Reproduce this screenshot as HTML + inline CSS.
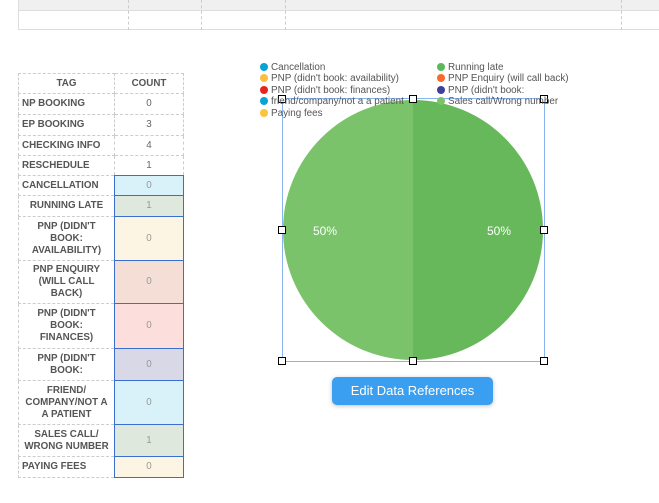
<!DOCTYPE html>
<html><head><style>
body{margin:0;width:659px;height:503px;background:#fff;font-family:"Liberation Sans",sans-serif;position:relative;overflow:hidden}
.a{position:absolute}
table{border-collapse:collapse;position:absolute;left:18px;top:73px;width:166px;font-size:9.8px;color:#555;font-weight:bold}
td{border:1px dashed #ccc;padding:0 3px;text-align:center;line-height:12px}
td.c{font-weight:normal;color:#999;width:62px;border:1px solid #3a6fd0}
td.w{font-weight:normal;color:#666}
.lg{position:absolute;font-size:9.9px;color:#555;white-space:nowrap}
.lg i{position:absolute;left:-11px;top:1px;width:8px;height:8px;border-radius:50%}
.h{position:absolute;width:6px;height:6px;border:1px solid #000;background:#fff}
</style></head><body>
<div class="a" style="left:18px;top:0;width:641px;height:10px;background:#f0f0f0;border-bottom:1px solid #ddd"></div>
<div class="a" style="left:18px;top:0;width:641px;height:30px;border-left:1px solid #ddd;border-bottom:1px solid #ddd;box-sizing:border-box"></div>
<div class="a" style="left:128px;top:0;height:30px;border-left:1px dashed #ccc"></div>
<div class="a" style="left:201px;top:0;height:30px;border-left:1px dashed #ccc"></div>
<div class="a" style="left:285px;top:0;height:30px;border-left:1px dashed #ccc"></div>
<div class="a" style="left:621px;top:0;height:30px;border-left:1px dashed #ccc"></div>
<table>
<tr style="height:20px"><td>TAG</td><td class="w" style="font-weight:bold;color:#555;width:62px">COUNT</td></tr>
<tr style="height:21px"><td style="text-align:left">NP BOOKING</td><td class="w">0</td></tr>
<tr style="height:21px"><td style="text-align:left">EP BOOKING</td><td class="w">3</td></tr>
<tr style="height:20px"><td style="text-align:left">CHECKING INFO</td><td class="w">4</td></tr>
<tr style="height:20px"><td style="text-align:left">RESCHEDULE</td><td class="w">1</td></tr>
<tr style="height:20px"><td style="text-align:left">CANCELLATION</td><td class="c" style="background:#d9f1f8">0</td></tr>
<tr style="height:21px"><td>RUNNING LATE</td><td class="c" style="background:#dfe8dc">1</td></tr>
<tr style="height:44px"><td>PNP (DIDN'T<br>BOOK:<br>AVAILABILITY)</td><td class="c" style="background:#fdf5e3">0</td></tr>
<tr style="height:43px"><td>PNP ENQUIRY<br>(WILL CALL<br>BACK)</td><td class="c" style="background:#f4ded5">0</td></tr>
<tr style="height:45px"><td>PNP (DIDN'T<br>BOOK:<br>FINANCES)</td><td class="c" style="background:#fcdedd">0</td></tr>
<tr style="height:32px"><td>PNP (DIDN'T<br>BOOK:</td><td class="c" style="background:#d8d8e6">0</td></tr>
<tr style="height:44px"><td>FRIEND/<br>COMPANY/NOT A<br>A PATIENT</td><td class="c" style="background:#d9f1f8">0</td></tr>
<tr style="height:32px"><td>SALES CALL/<br>WRONG NUMBER</td><td class="c" style="background:#dfe8dc">1</td></tr>
<tr style="height:21px"><td style="text-align:left">PAYING FEES</td><td class="c" style="background:#fdf5e3">0</td></tr>
</table>
<svg class="a" style="left:0;top:0" width="659" height="503">
<path d="M413,100 A130,130 0 0 0 413,360 Z" fill="#7ac36a"/>
<path d="M413,100 A130,130 0 0 1 413,360 Z" fill="#66b85a"/>
<text x="325" y="235" fill="#fff" font-size="12" text-anchor="middle" font-family="Liberation Sans">50%</text>
<text x="499" y="235" fill="#fff" font-size="12" text-anchor="middle" font-family="Liberation Sans">50%</text>
<rect x="282.5" y="98.5" width="262" height="263" fill="none" stroke="#8ab4f0"/>
</svg>
<div class="h" style="left:278px;top:95px"></div><div class="h" style="left:409px;top:95px"></div><div class="h" style="left:540px;top:95px"></div>
<div class="h" style="left:278px;top:226px"></div><div class="h" style="left:540px;top:226px"></div>
<div class="h" style="left:278px;top:357px"></div><div class="h" style="left:409px;top:357px"></div><div class="h" style="left:540px;top:357px"></div>
<div class="lg" style="left:271px;top:62px"><i style="background:#0aa3d3"></i>Cancellation</div>
<div class="lg" style="left:271px;top:73px"><i style="background:#fbbf3d"></i>PNP (didn't book: availability)</div>
<div class="lg" style="left:271px;top:85px"><i style="background:#e8231d"></i>PNP (didn't book: finances)</div>
<div class="lg" style="left:271px;top:96px"><i style="background:#0aa3d3"></i>friend/company/not a a patient</div>
<div class="lg" style="left:271px;top:108px"><i style="background:#fbc43f"></i>Paying fees</div>
<div class="lg" style="left:448px;top:62px"><i style="background:#5cb85c"></i>Running late</div>
<div class="lg" style="left:448px;top:73px"><i style="background:#f86a2a"></i>PNP Enquiry (will call back)</div>
<div class="lg" style="left:448px;top:85px"><i style="background:#3f3f9c"></i>PNP (didn't book:</div>
<div class="lg" style="left:448px;top:96px"><i style="background:#7ac36a"></i>Sales call/Wrong number</div>
<div class="a" style="left:332px;top:377px;width:161px;height:28px;background:#3a9ff0;border-radius:5px;color:#fff;font-size:13px;text-align:center;line-height:28px;box-shadow:0 1px 4px rgba(0,0,0,.25)">Edit Data References</div>
</body></html>
